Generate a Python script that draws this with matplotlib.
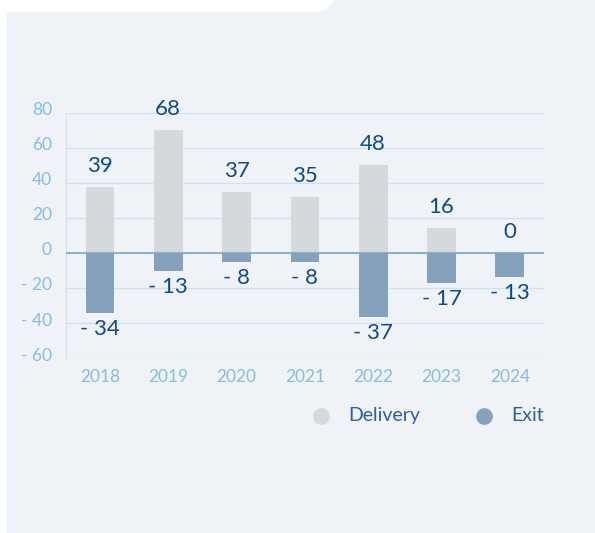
import matplotlib.pyplot as plt
from matplotlib.patches import Rectangle, FancyBboxPatch
from matplotlib.lines import Line2D
from matplotlib.transforms import IdentityTransform, ScaledTranslation

plt.rcParams['font.family'] = ['Lato', 'DejaVu Sans']

# Datos
anios = ["2018", "2019", "2020", "2021", "2022", "2023", "2024"]
delivery = [37.6, 70.1, 34.8, 31.9, 50.2, 14.3, 0]
exit_ = [-34.0, -10.1, -4.9, -4.9, -36.3, -16.9, -13.5]
etiq_delivery = ["39", "68", "37", "35", "48", "16", "0"]
etiq_exit = ["- 34", "- 13", "- 8", "- 8", "- 37", "- 17", "- 13"]
ticks_y = [-60, -40, -20, 0, 20, 40, 60, 80]
ticks_txt = ["- 60", "- 40", "- 20", "0", "20", "40", "60", "80"]

panel = "#eff3f7"
gris = "#d5d8dc"
azul = "#86a1bb"
azul_txt = "#0f4a86"
azul_claro = "#86bcdf"
linea = "#cfe1ef"

W, H = 595, 533
fig = plt.figure(figsize=(W / 100, H / 100), dpi=100)
fig.patch.set_facecolor("white")

# fondo del panel y pestaña blanca arriba
fig.patches.append(Rectangle((7, 0), W - 7, H, transform=IdentityTransform(),
                             facecolor=panel, edgecolor="none", zorder=-3))
fig.patches.append(FancyBboxPatch((-60, H - 12), 395, 80, transform=IdentityTransform(),
                                  boxstyle="round,pad=0,rounding_size=22",
                                  facecolor="white", edgecolor="none", zorder=-2))

ax = fig.add_axes([65.7 / W, (H - 358.3) / H, 478.3 / W, 245.6 / H])
ax.set_facecolor("none")

x = range(len(anios))
ax.bar(x, delivery, width=0.42, color=gris, zorder=2)
ax.bar(x, exit_, width=0.42, color=azul, zorder=2)

for i in x:
    ax.annotate(etiq_delivery[i], (i, delivery[i]), xytext=(0, 15), textcoords="offset points",
                ha="center", va="center", fontsize=16, color=azul_txt)
    ax.annotate(etiq_exit[i], (i, exit_[i]), xytext=(0, -12), textcoords="offset points",
                ha="center", va="center", fontsize=16, color=azul_txt)

ax.set_xlim(-0.5, len(anios) - 0.5)
ax.set_ylim(-60, 80)
ax.set_yticks(ticks_y)
ax.set_yticklabels(ticks_txt)
ax.set_xticks(list(x))
ax.set_xticklabels(anios)
ax.tick_params(axis="y", length=0, pad=10, labelsize=12.5, labelcolor=azul_claro)
ax.tick_params(axis="x", length=0, pad=8, labelsize=12.5, labelcolor=azul_claro)
for lab in ax.get_yticklabels():
    lab.set_transform(lab.get_transform() + ScaledTranslation(0, 3 / 72, fig.dpi_scale_trans))
ax.grid(axis="y", color=linea, linewidth=1, zorder=0)
ax.axhline(0, color="#7ea6c8", linewidth=1.2, zorder=3)
for s in ["top", "right", "bottom"]:
    ax.spines[s].set_visible(False)
ax.spines["left"].set_color(linea)

# Leyenda
for cx, col, txt, tx in [(320.7, gris, "Delivery", 348), (483.7, azul, "Exit", 511.7)]:
    fig.add_artist(Line2D([cx / W], [1 - 415.7 / H], transform=fig.transFigure,
                          marker="o", markersize=11, color=col, linestyle="none"))
    fig.text(tx / W, 1 - 415.7 / H, txt, ha="left", va="center", fontsize=14, color="#2e5f97")

plt.savefig("out.png", dpi=100, facecolor=fig.get_facecolor())
